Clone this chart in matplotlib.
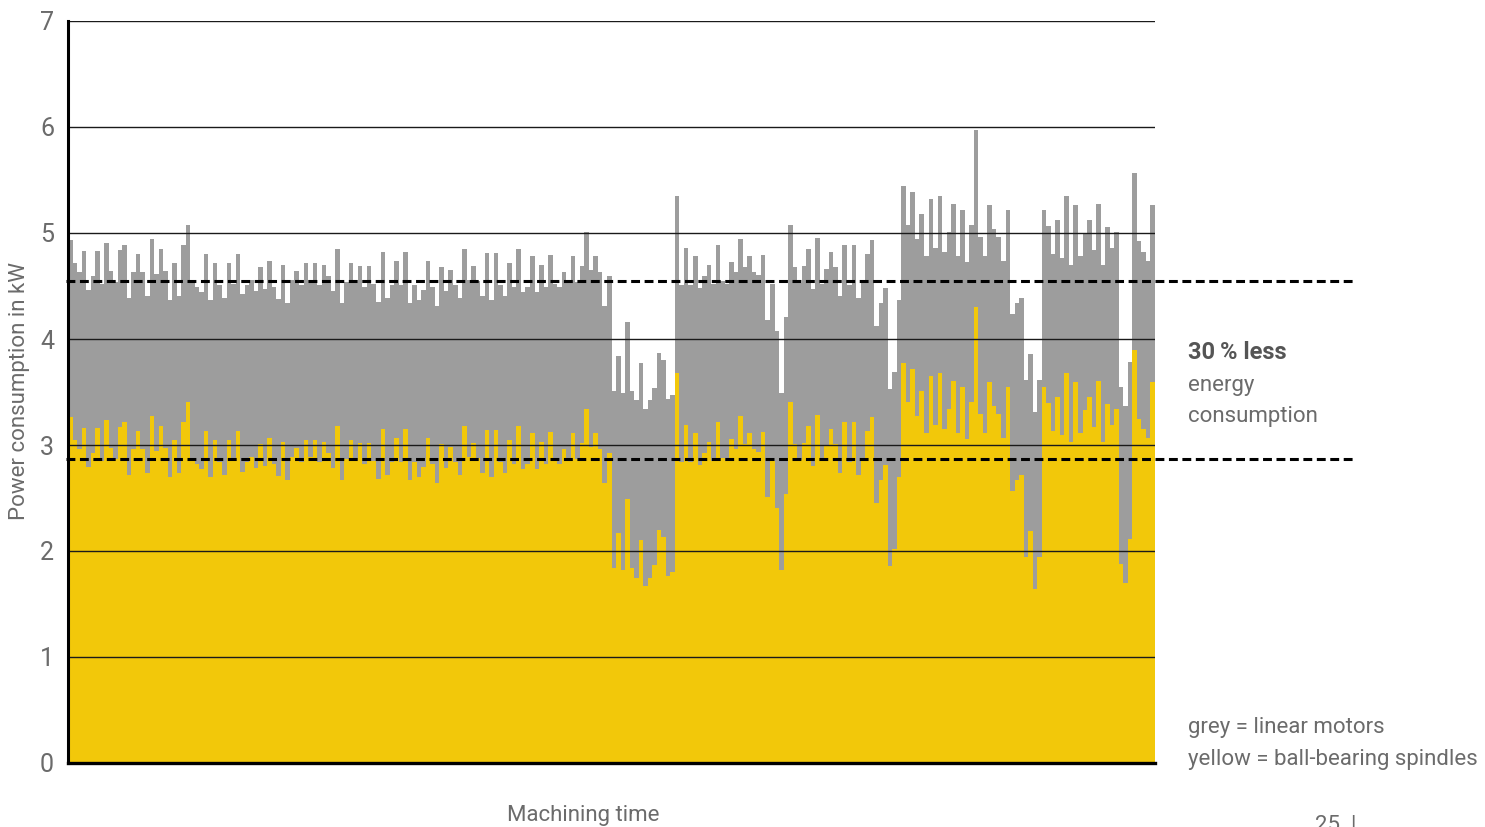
import matplotlib
matplotlib.use("Agg")
import matplotlib.pyplot as plt
from matplotlib import font_manager
import numpy as np

# grey = linear motors, yellow = ball-bearing spindles (kW, one bar per time slot)
grey = [
    4.93, 4.72, 4.63, 4.83, 4.46, 4.59, 4.83, 4.52, 4.91, 4.64, 4.54, 4.84, 4.89, 4.39, 4.63, 4.80,
    4.63, 4.41, 4.94, 4.61, 4.85, 4.64, 4.37, 4.72, 4.41, 4.89, 5.08, 4.54, 4.49, 4.44, 4.80, 4.37,
    4.72, 4.51, 4.39, 4.72, 4.52, 4.80,
    4.42, 4.51, 4.56, 4.45, 4.68, 4.47, 4.74, 4.49, 4.38, 4.70, 4.34, 4.56, 4.64, 4.51, 4.72, 4.56,
    4.72, 4.51, 4.70, 4.59, 4.45, 4.85, 4.34, 4.54, 4.72, 4.53, 4.69, 4.49, 4.69, 4.52, 4.35, 4.82,
    4.39, 4.51, 4.74, 4.51, 4.82, 4.34,
    4.51, 4.37, 4.46, 4.74, 4.49, 4.31, 4.68, 4.45, 4.65, 4.51, 4.39, 4.85, 4.56, 4.69, 4.55, 4.41,
    4.81, 4.37, 4.81, 4.51, 4.41, 4.72, 4.49, 4.85, 4.44, 4.49, 4.78, 4.44, 4.70, 4.49, 4.79, 4.52,
    4.49, 4.63, 4.53, 4.78, 4.54, 4.69, 5.01,
    4.65, 4.78, 4.63, 4.31, 4.59, 3.51, 3.84, 3.49, 4.16, 3.51, 3.42, 3.77, 3.34, 3.42, 3.54, 3.87,
    3.80, 3.43, 3.47, 5.35, 4.51, 4.86, 4.51, 4.78, 4.48, 4.59, 4.70, 4.52, 4.89, 4.55, 4.52, 4.73,
    4.63, 4.94, 4.68, 4.78, 4.63, 4.60, 4.79, 4.18,
    4.52, 4.08, 3.49, 4.21, 5.08, 4.68, 4.53, 4.69, 4.85, 4.47, 4.95, 4.52, 4.66, 4.82, 4.68, 4.41,
    4.89, 4.51, 4.89, 4.39, 4.54, 4.80, 4.93, 4.12, 4.34, 4.48, 3.53, 3.69, 4.37, 5.44, 5.08, 5.39,
    4.94, 5.18, 4.78, 5.32, 4.86, 5.35, 4.82,
    5.01, 5.27, 4.78, 5.22, 4.73, 5.08, 5.97, 4.96, 4.78, 5.26, 5.04, 4.96, 4.74, 5.22, 4.24, 4.34,
    4.39, 3.61, 3.86, 3.31, 3.61, 5.22, 5.07, 4.80, 5.12, 4.76, 5.35, 4.70, 5.26, 4.78, 5.00, 5.12,
    4.84, 5.27, 4.70, 5.06, 4.86, 5.01, 3.55, 3.37, 3.78, 5.57, 4.92, 4.82, 4.74, 5.26,
]

yellow = [
    3.26, 3.05, 2.96, 3.16, 2.79, 2.92, 3.16, 2.85, 3.24, 2.97, 2.87, 3.17, 3.22, 2.72, 2.96, 3.13,
    2.96, 2.74, 3.27, 2.94, 3.18, 2.97, 2.70, 3.05, 2.74, 3.22, 3.41, 2.87, 2.82, 2.77, 3.13, 2.70,
    3.05, 2.84, 2.72, 3.05, 2.85, 3.13,
    2.75, 2.84, 2.89, 2.78, 3.01, 2.80, 3.07, 2.82, 2.71, 3.03, 2.67, 2.89, 2.97, 2.84, 3.05, 2.89,
    3.05, 2.84, 3.03, 2.92, 2.78, 3.18, 2.67, 2.87, 3.05, 2.86, 3.02, 2.82, 3.02, 2.85, 2.68, 3.15,
    2.72, 2.84, 3.07, 2.84, 3.15, 2.67,
    2.84, 2.70, 2.79, 3.07, 2.82, 2.64, 3.01, 2.78, 2.98, 2.84, 2.72, 3.18, 2.89, 3.02, 2.88, 2.74,
    3.14, 2.70, 3.14, 2.84, 2.74, 3.05, 2.82, 3.18, 2.77, 2.82, 3.11, 2.77, 3.03, 2.82, 3.12, 2.85,
    2.82, 2.96, 2.86, 3.11, 2.87, 3.02, 3.34,
    2.98, 3.11, 2.96, 2.64, 2.92, 1.84, 2.17, 1.82, 2.49, 1.84, 1.75, 2.10, 1.67, 1.75, 1.87, 2.20,
    2.13, 1.76, 1.80, 3.68, 2.84, 3.19, 2.84, 3.11, 2.81, 2.92, 3.03, 2.85, 3.22, 2.88, 2.85, 3.06,
    2.96, 3.27, 3.01, 3.11, 2.96, 2.93, 3.12, 2.51,
    2.85, 2.41, 1.82, 2.54, 3.41, 3.01, 2.86, 3.02, 3.18, 2.80, 3.28, 2.85, 2.99, 3.15, 3.01, 2.74,
    3.22, 2.84, 3.22, 2.72, 2.87, 3.13, 3.26, 2.45, 2.67, 2.81, 1.86, 2.02, 2.70, 3.77, 3.41, 3.72,
    3.27, 3.51, 3.11, 3.65, 3.19, 3.68, 3.15,
    3.34, 3.60, 3.11, 3.55, 3.06, 3.41, 4.30, 3.29, 3.11, 3.59, 3.37, 3.29, 3.07, 3.55, 2.57, 2.67,
    2.72, 1.94, 2.19, 1.64, 1.94, 3.55, 3.40, 3.13, 3.45, 3.09, 3.68, 3.03, 3.59, 3.11, 3.33, 3.45,
    3.17, 3.60, 3.03, 3.39, 3.19, 3.34, 1.88, 1.70, 2.11, 3.90, 3.25, 3.15, 3.07, 3.59,
]

# average levels (dashed lines)
avg_grey = 4.55
avg_yellow = 2.87
yticks = [0, 1, 2, 3, 4, 5, 6, 7]

names = {f.name for f in font_manager.fontManager.ttflist}
if "Liberation Sans Narrow" in names:
    fam = "Liberation Sans Narrow"
    big = 19
else:
    fam = "Roboto"
    big = 16
plt.rcParams["font.family"] = [fam, "DejaVu Sans"]

W, H = 1485, 827
fig = plt.figure(figsize=(W / 100, H / 100), dpi=100)
ax = fig.add_axes([68 / W, 1 - 763 / H, (1155 - 68) / W, (763 - 21) / H])

x = np.arange(len(grey))
ax.bar(x, grey, width=1.0, align="edge", color="#9d9d9d", linewidth=0, zorder=1)
ax.bar(x, yellow, width=1.0, align="edge", color="#f2c80a", linewidth=0, zorder=2)

ax.set_xlim(0, len(grey))
ax.set_ylim(0, 7)
for v in yticks[1:]:
    ax.axhline(v, color="#1a1a1a", lw=1.0, zorder=3)

# dashed average lines run past the plot to the right
xend = (1355 - 68) / ((1155 - 68) / len(grey))
for v in (avg_grey, avg_yellow):
    ln, = ax.plot([-0.4, xend], [v, v], color="black", lw=2.2, zorder=4, clip_on=False)
    ln.set_dashes([2.9, 1.5])

tc = "#6b6b6b"
ax.set_yticks(yticks)
ax.set_yticklabels([str(t) for t in yticks], color=tc, fontsize=18)
ax.set_xticks([])
ax.tick_params(axis="y", length=0, pad=10)
for s in ("top", "right"):
    ax.spines[s].set_visible(False)
ax.spines["left"].set_linewidth(2.2)
ax.spines["bottom"].set_linewidth(2.4)
ax.spines["left"].set_zorder(5)
ax.spines["bottom"].set_zorder(5)

fig.text(20 / W, 1 - 391 / H, "Power consumption in kW", rotation=90, ha="center", va="center",
         color=tc, fontsize=big)
fig.text(583 / W, 1 - 815 / H, "Machining time", ha="center", va="center", color=tc, fontsize=big)

fig.text(1188 / W, 1 - 359 / H, "30\u2009% less", ha="left", va="baseline", color="#555555",
         fontsize=big + 1, fontweight="bold")
fig.text(1188 / W, 1 - 391 / H, "energy", ha="left", va="baseline", color=tc, fontsize=big)
fig.text(1188 / W, 1 - 422 / H, "consumption", ha="left", va="baseline", color=tc, fontsize=big)

fig.text(1188 / W, 1 - 733 / H, "grey = linear motors", ha="left", va="baseline", color=tc,
         fontsize=big)
fig.text(1188 / W, 1 - 765 / H, "yellow = ball-bearing spindles", ha="left", va="baseline", color=tc,
         fontsize=big)

fig.text(1315 / W, 1 - 815 / H, "25  |", ha="left", va="top", color=tc, fontsize=big)

fig.savefig("out.png", dpi=100)
